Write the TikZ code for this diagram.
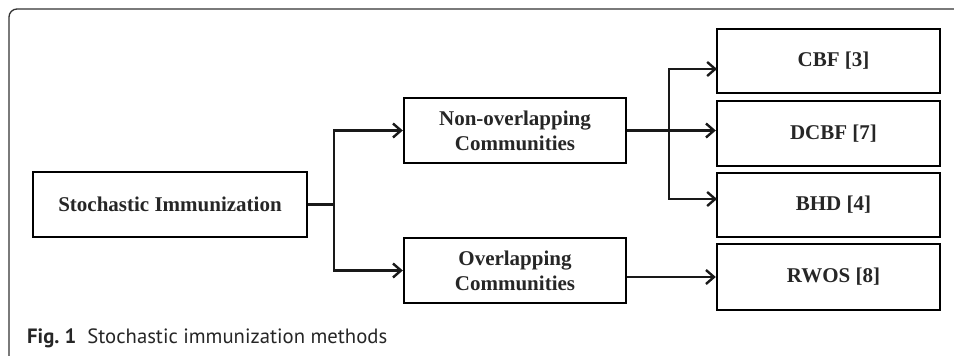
\documentclass[tikz,border=0pt]{standalone}
\usepackage{fontspec}
\setmainfont{Liberation Serif}
\newfontfamily\capfont{PT Sans}
\usetikzlibrary{arrows.meta}
\begin{document}
\begin{tikzpicture}[x=1pt,y=-1pt,
  box/.style={draw, line width=2.4pt, inner sep=0pt, align=center,
    font=\fontsize{21}{25}\selectfont\bfseries, text=black!85},
  conn/.style={line width=2.4pt, black!90},
  arr/.style={conn, -{Straight Barb[length=8pt,width=14pt,line width=2.4pt]}}]
\useasboundingbox (0,0) rectangle (954,356);
\draw[line width=1.3pt, black!80, rounded corners=8pt] (9,360) -- (9,9) -- (960,9);
\node[box, minimum width=274pt, minimum height=65pt] (stoch) at (170,204.5) {Stochastic Immunization};
\node[box, minimum width=222pt, minimum height=65pt] (non) at (515,130.5) {Non-overlapping\\Communities};
\node[box, minimum width=222pt, minimum height=65pt] (ov) at (515,270.5) {Overlapping\\Communities};
\node[box, minimum width=223pt, minimum height=64pt] (cbf) at (828.5,61) {\hspace{10pt}CBF [3]};
\node[box, minimum width=223pt, minimum height=65pt] (dcbf) at (828.5,133.5) {\hspace{10pt}DCBF [7]};
\node[box, minimum width=223pt, minimum height=64pt] (bhd) at (828.5,205) {\hspace{10pt}BHD [4]};
\node[box, minimum width=223pt, minimum height=66pt] (rwos) at (828.5,277) {\hspace{10pt}RWOS [8]};
\coordinate (j) at (334,204.5);
\coordinate (b) at (669,131);
\coordinate (cbfin) at (717,69);
\coordinate (bhdin) at (717,199);
\draw[conn] (stoch.east) -- (j);
\draw[arr] (j) |- (non.west);
\draw[arr] (j) |- (ov.west);
\draw[arr] (non.east) -- (non.east -| dcbf.west);
\draw[arr] (b) |- (cbfin);
\draw[arr] (b) |- (bhdin);
\draw[arr] (ov.east |- rwos.west) -- (rwos.west);
\node[anchor=base west, inner sep=0pt, font=\capfont\fontsize{20.7}{23}\selectfont, text=black!85] (cap) at (27,343) {\textbf{Fig.~1}\hspace{11pt}Stochastic immunization methods};
\end{tikzpicture}
\end{document}
